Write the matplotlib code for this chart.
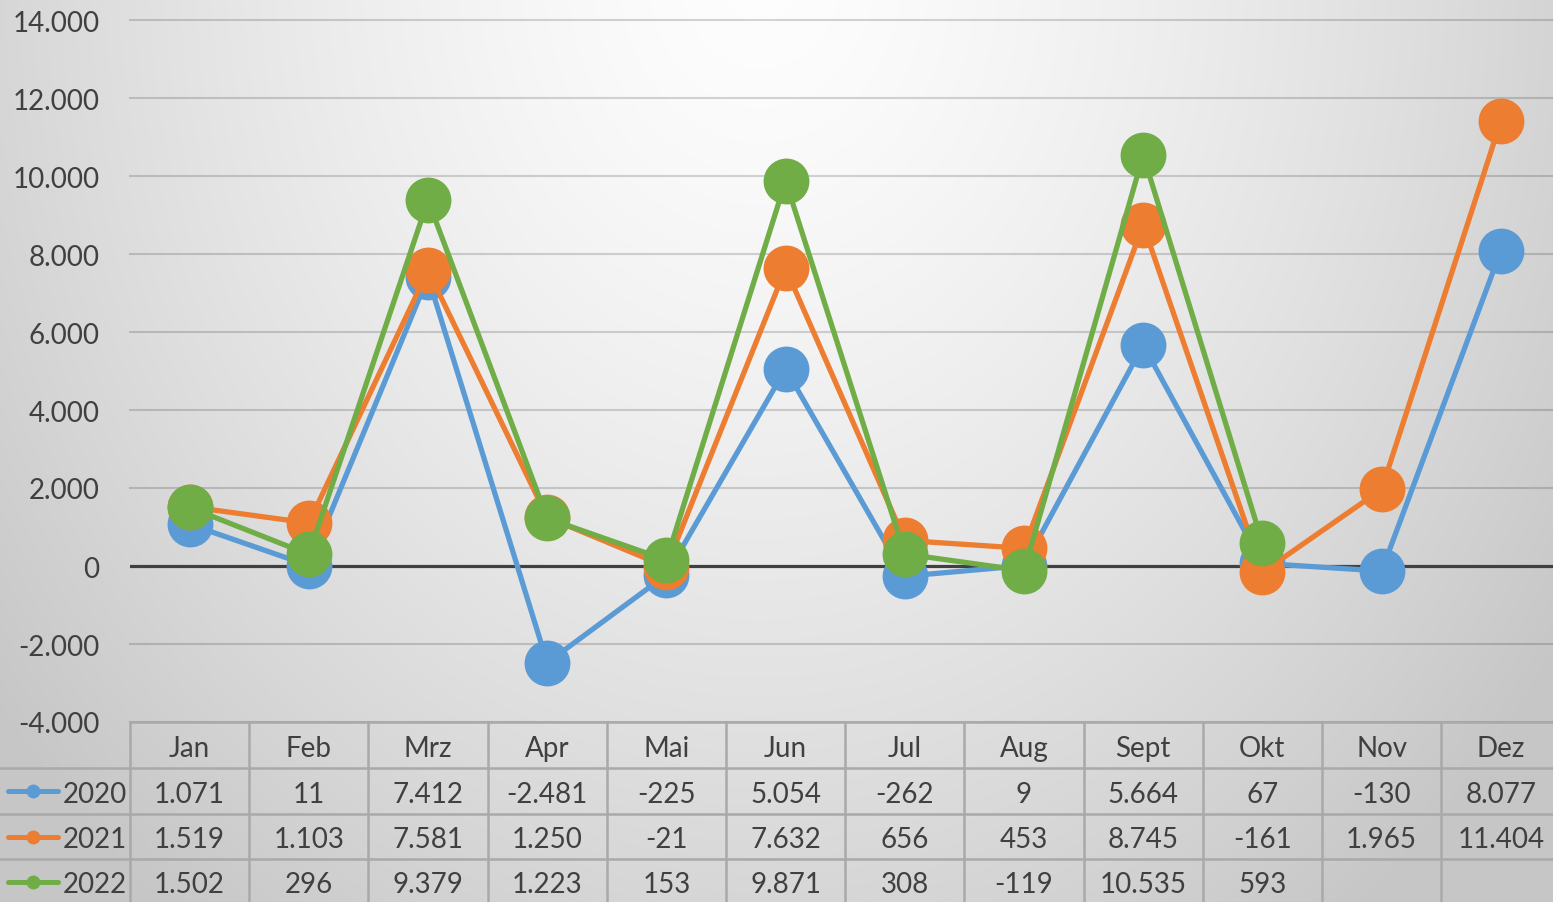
import numpy as np
import matplotlib.pyplot as plt

plt.rcParams['font.family'] = ['Lato', 'DejaVu Sans']

# Data
months = ['Jan', 'Feb', 'Mrz', 'Apr', 'Mai', 'Jun', 'Jul', 'Aug', 'Sept', 'Okt', 'Nov', 'Dez']
years = ['2020', '2021', '2022']
v2020 = [1071, 11, 7412, -2481, -225, 5054, -262, 9, 5664, 67, -130, 8077]
v2021 = [1519, 1103, 7581, 1250, -21, 7632, 656, 453, 8745, -161, 1965, 11404]
v2022 = [1502, 296, 9379, 1223, 153, 9871, 308, -119, 10535, 593, None, None]
colors = ['#5B9BD5', '#ED7D31', '#70AD47']
yticks = [-4000, -2000, 0, 2000, 4000, 6000, 8000, 10000, 12000, 14000]

txt_col = '#404040'
W, H = 1553, 903


def fmt(v):
    return '' if v is None else f'{v:,.0f}'.replace(',', '.')


fig = plt.figure(figsize=(W / 100, H / 100), dpi=100)

# background: soft radial gradient (light at top centre)
bg = fig.add_axes([0, 0, 1, 1])
yy, xx = np.mgrid[0:H, 0:W]
d = np.sqrt(((xx - 760) / 820.0) ** 2 + ((yy + 30) / 1000.0) ** 2)
shade = np.clip(0.995 - 0.17 * d ** 1.4, 0.78, 1)
bg.imshow(np.dstack([shade] * 3), aspect='auto', extent=[0, 1, 0, 1], origin='upper')
bg.axis('off')

# main axes: x from 130px, one category ~119.2px wide (right end runs past the picture)
cat_w = 119.2
left_px, top_px, bot_px = 130, 21, 723
ax = fig.add_axes([left_px / W, (H - bot_px) / H, 12 * cat_w / W, (bot_px - top_px) / H])
ax.set_facecolor('none')
x = np.arange(len(months))
ax.set_xlim(-0.5, 11.5)
ax.set_ylim(-4000, 14000)

for t in yticks:
    if t == 0:
        continue
    ax.axhline(t, color='black', alpha=0.16, lw=1.5, zorder=1, clip_on=False)
ax.axhline(0, color=txt_col, lw=2.3, zorder=2)

series = [v2020, v2021, v2022]
for i, vals in enumerate(series):
    y = np.array([np.nan if v is None else v for v in vals], dtype=float)
    ax.plot(x, y, color=colors[i], lw=3.8, marker='o', ms=32, mec=colors[i],
            zorder=3 + i, solid_capstyle='round')

ax.set_yticks(yticks)
ax.set_yticklabels([fmt(t) for t in yticks], color=txt_col, fontsize=20)
ax.tick_params(axis='y', length=0, pad=22)
ax.set_xticks([])
for s in ax.spines.values():
    s.set_visible(False)

# data table under the plot
row_px = [723, 769, 815, 860, 905]
tab = fig.add_axes([left_px / W, (H - row_px[-1]) / H, 12 * cat_w / W,
                    (row_px[-1] - row_px[0]) / H])
tab.set_xlim(-0.5, 11.5)
tab.set_ylim(row_px[-1], row_px[0])
tab.axis('off')
tab.patch.set_alpha(0)


def px2x(px):
    return -0.5 + (px - left_px) / cat_w


line_col = '#a9a9a9'
tab.plot([-0.5, 11.5], [row_px[0], row_px[0]], color=line_col, lw=1.8, clip_on=False)
for r in row_px[1:4]:
    tab.plot([px2x(0), 11.5], [r, r], color=line_col, lw=1.8, clip_on=False)
for c in range(13):
    tab.plot([c - 0.5, c - 0.5], [row_px[0], row_px[-1]], color=line_col, lw=1.8, clip_on=False)

for j, m in enumerate(months):
    tab.text(j, (row_px[0] + row_px[1]) / 2 + 3, m, ha='center', va='center',
             fontsize=20, color=txt_col)
for i, vals in enumerate(series):
    yc = (row_px[i + 1] + row_px[i + 2]) / 2 + 3
    for j, v in enumerate(vals):
        tab.text(j, yc, fmt(v), ha='center', va='center', fontsize=20, color=txt_col)
    # legend key
    tab.plot([px2x(8), px2x(58)], [yc - 3, yc - 3], color=colors[i], lw=3.6, clip_on=False,
             solid_capstyle='round')
    tab.plot([px2x(33)], [yc - 3], 'o', color=colors[i], ms=9, clip_on=False)
    tab.text(px2x(63), yc, years[i], ha='left', va='center', fontsize=20, color=txt_col,
             clip_on=False)

fig.savefig('out.png', dpi=100)
